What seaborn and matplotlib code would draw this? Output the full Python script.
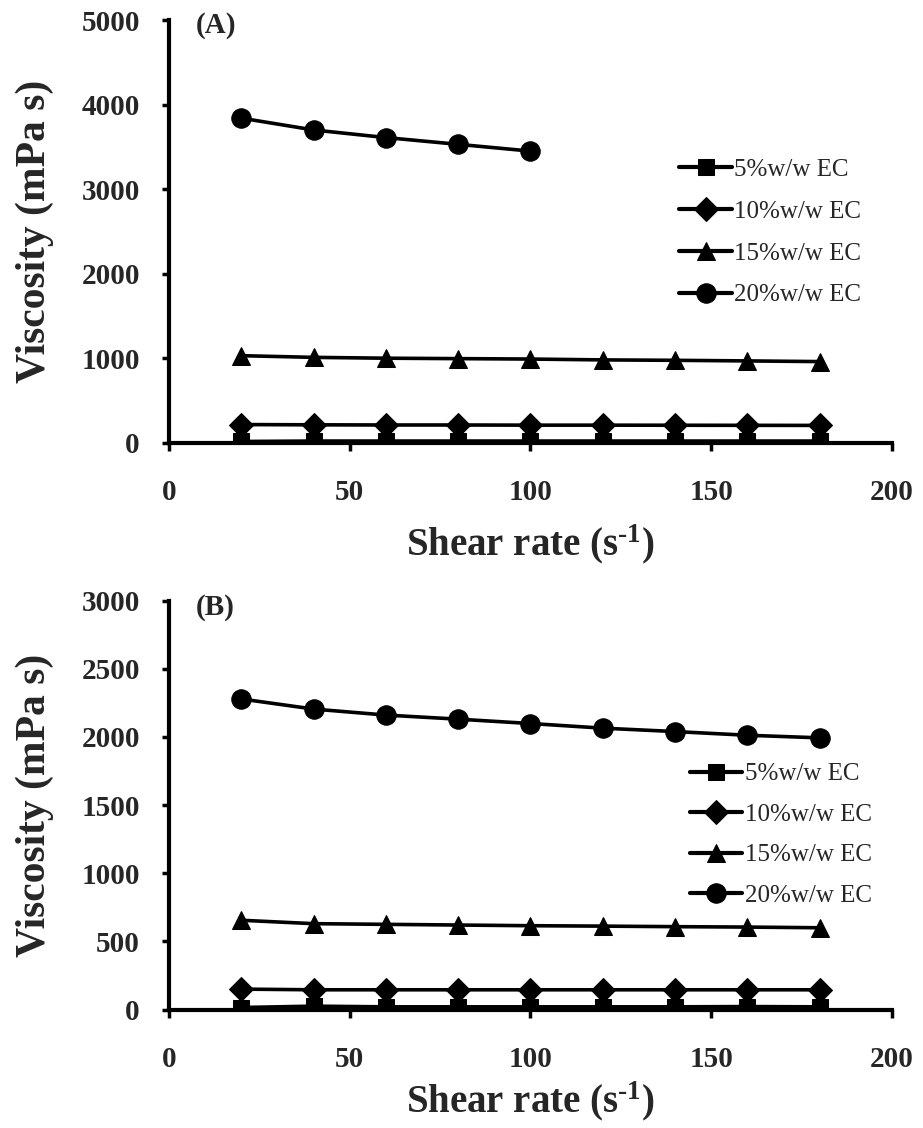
import numpy as np
import pandas as pd
import matplotlib
matplotlib.use("Agg")
import matplotlib.pyplot as plt
import seaborn as sns

# ---- data ----
shear_rate = [20, 40, 60, 80, 100, 120, 140, 160, 180]
series_labels = ["5%w/w EC", "10%w/w EC", "15%w/w EC", "20%w/w EC"]

# Panel A
a_5 = [15, 20, 20, 20, 20, 20, 20, 20, 20]
a_10 = [215, 212, 210, 210, 208, 208, 207, 206, 205]
a_15 = [1030, 1010, 1000, 995, 990, 980, 975, 968, 960]
a_20 = [3840, 3700, 3610, 3530, 3450]

# Panel B
b_5 = [15, 25, 20, 20, 20, 20, 20, 22, 20]
b_10 = [150, 145, 145, 145, 145, 145, 145, 145, 145]
b_15 = [655, 630, 625, 620, 615, 612, 608, 605, 600]
b_20 = [2278, 2204, 2160, 2130, 2098, 2064, 2039, 2012, 1993]

a_yticks = [0, 1000, 2000, 3000, 4000, 5000]
b_yticks = [0, 500, 1000, 1500, 2000, 2500, 3000]
xticks = [0, 50, 100, 150, 200]

markers = ["s", "D", "^", "o"]
msizes = [12, 12, 13, 14]

sns.set_style("ticks")
plt.rcParams["font.family"] = ["Liberation Serif", "DejaVu Serif"]
plt.rcParams["mathtext.fontset"] = "custom"
plt.rcParams["mathtext.rm"] = "Liberation Serif:bold"
plt.rcParams["mathtext.bf"] = "Liberation Serif:bold"
plt.rcParams["mathtext.it"] = "Liberation Serif:bold"


def make_df(vals):
    rows = []
    for lab, v in zip(series_labels, vals):
        for x, y in zip(shear_rate, v):
            rows.append({"x": x, "y": y, "series": lab})
    return pd.DataFrame(rows)


fig = plt.figure(figsize=(9.23, 11.28), dpi=100)
axA = fig.add_axes([0.1831, 0.6075, 0.7833, 0.3747])
axB = fig.add_axes([0.1831, 0.1050, 0.7833, 0.3626])

panels = [
    (axA, [a_5, a_10, a_15, a_20], a_yticks, 5000, "(A)", 4940,
     (0.706, 0.672), 0.77, 12),
    (axB, [b_5, b_10, b_15, b_20], b_yticks, 3000, "(B)", 2946,
     (0.72, 0.603), 0.72, 5),
]

for ax, vals, yt, ymax, tag, tagy, legpos, lspace, xlpad in panels:
    df = make_df(vals)
    for lab, m, ms in zip(series_labels, markers, msizes):
        sub = df[df["series"] == lab]
        sns.lineplot(data=sub, x="x", y="y", ax=ax, color="black",
                     marker=m, markersize=ms, linewidth=2.6,
                     markeredgecolor="black", label=lab)
    ax.set_xlim(0, 200)
    ax.set_ylim(0, ymax)
    ax.set_xticks(xticks)
    ax.set_yticks(yt)
    for s in ["top", "right"]:
        ax.spines[s].set_visible(False)
    for s in ["left", "bottom"]:
        ax.spines[s].set_linewidth(3)
        ax.spines[s].set_color("black")
    ax.spines["left"].set_zorder(0)
    ax.spines["bottom"].set_zorder(1)
    ax.tick_params(axis="both", direction="out", width=2.5, color="black",
                   labelsize=21)
    ax.tick_params(axis="y", length=5, pad=16)
    ax.tick_params(axis="x", length=6, pad=20)
    for t in ax.get_xticklabels() + ax.get_yticklabels():
        t.set_fontweight("bold")
    ax.set_xlabel("Shear rate (s$^{\\text{-1}}$)", fontsize=28,
                  fontweight="bold", labelpad=xlpad)
    ax.set_ylabel("Viscosity (mPa s)", fontsize=30, fontweight="bold",
                  labelpad=20)
    ax.text(7.5, tagy, tag, fontsize=21, fontweight="bold", va="center",
            ha="left")
    ax.grid(False)
    leg = ax.legend(loc="upper left", bbox_to_anchor=legpos, frameon=False,
                    fontsize=18, handlelength=2.1, handletextpad=0.1,
                    labelspacing=lspace, borderpad=0, borderaxespad=0)
    for line in leg.get_lines():
        line.set_linewidth(3)

fig.savefig("out.png", dpi=100, facecolor="white")
